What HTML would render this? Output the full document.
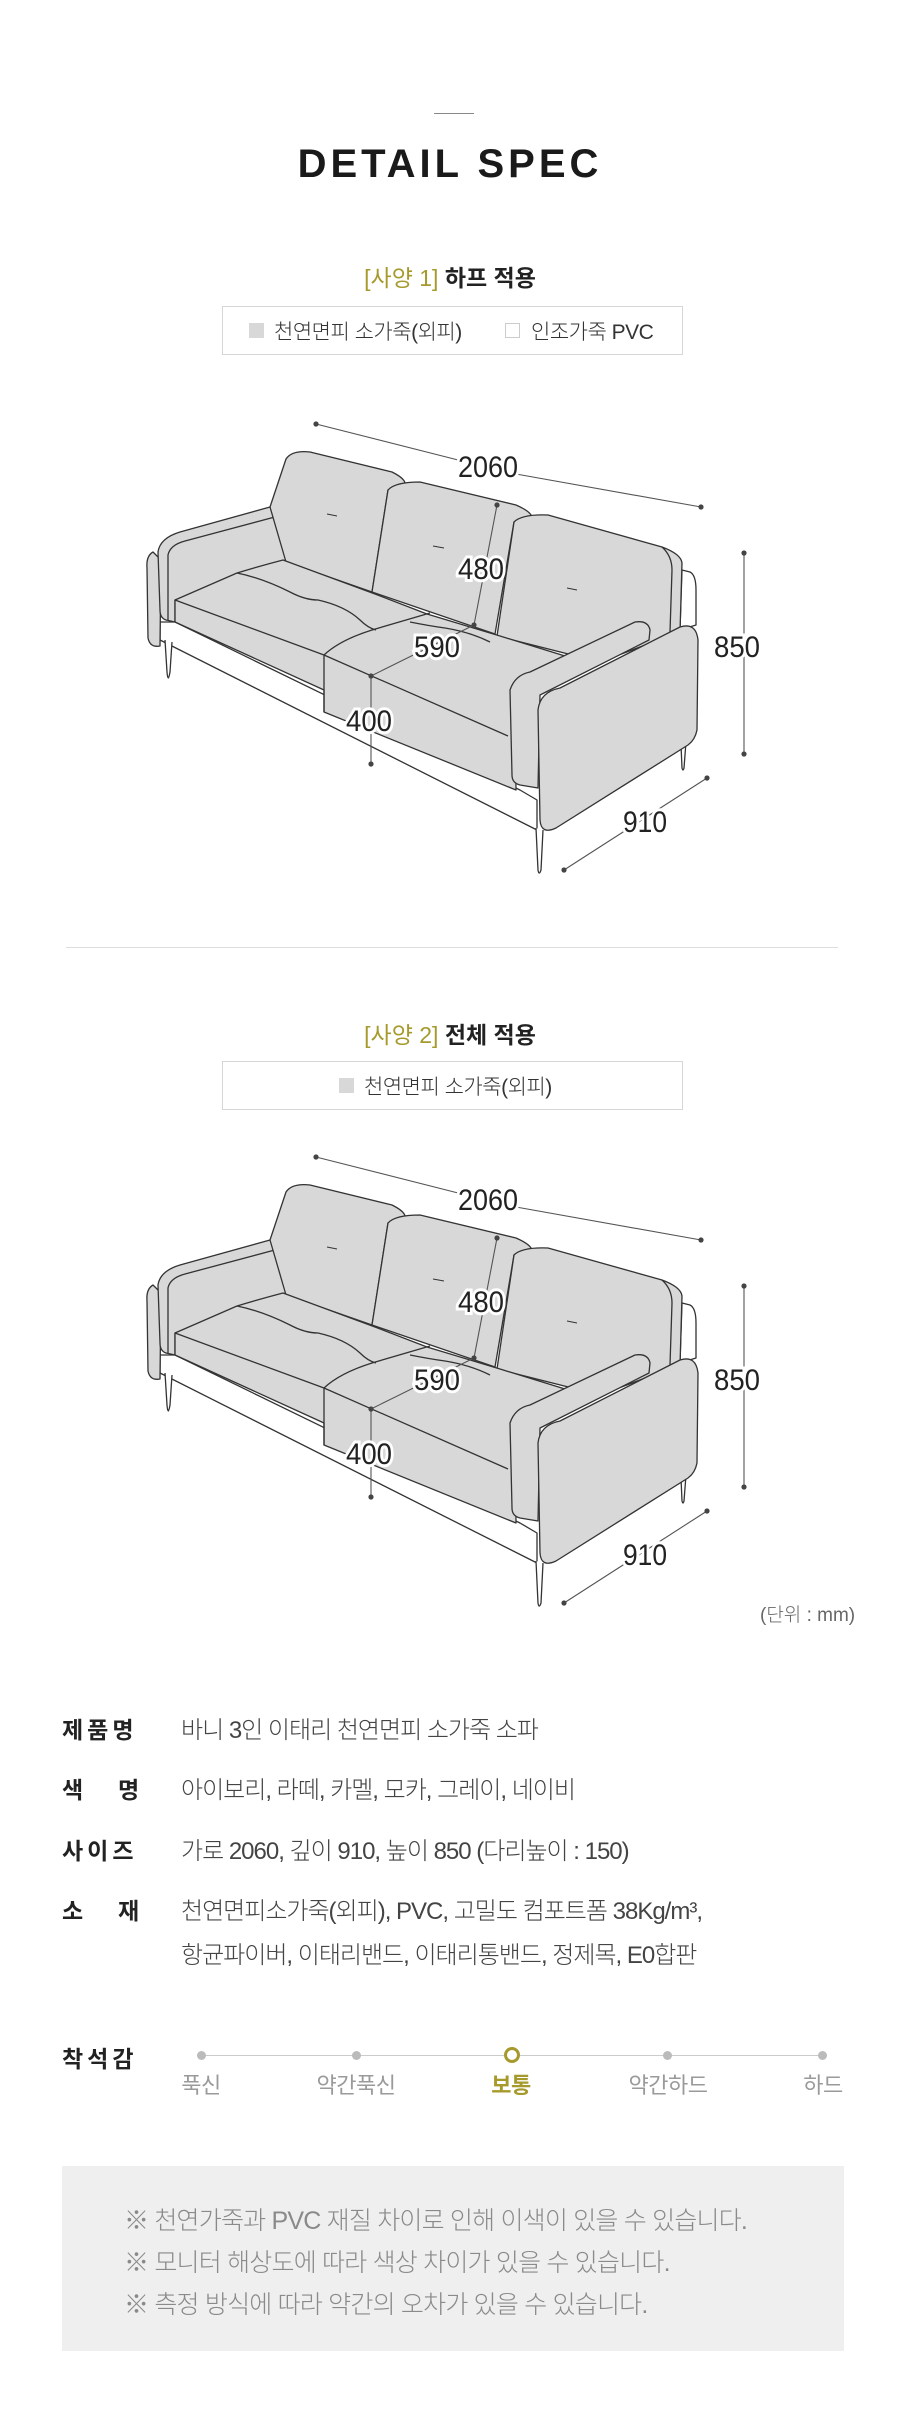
<!DOCTYPE html>
<html><head><meta charset="utf-8">
<style>
*{margin:0;padding:0;box-sizing:border-box}
body{width:900px;height:2425px;background:#fff;position:relative;font-family:"Liberation Sans","Noto Sans CJK KR",sans-serif;color:#222;overflow:hidden}
.a{position:absolute;white-space:nowrap}
.kr{font-family:"Liberation Sans","Noto Sans CJK KR",sans-serif}
.box{position:absolute;left:222px;width:461px;height:49px;border:1px solid #d6d6d6}
.sq{position:absolute;width:15px;height:15px}
.lbl{font-size:21px;color:#333;font-weight:300;letter-spacing:-0.5px}
.k{font-size:23px;font-weight:700;color:#222;letter-spacing:4px}
.v{font-size:24px;color:#444;font-weight:300;letter-spacing:-1px}
.sc{font-size:22px;color:#9a9a9a;transform:translateX(-50%);letter-spacing:-0.5px}
.note{font-size:25px;color:#8a8a8a;font-weight:300;letter-spacing:-0.8px}
svg text{font-family:"Liberation Sans","Noto Sans CJK KR",sans-serif;font-size:30px;fill:#222;stroke:#fff;stroke-width:6px;paint-order:stroke;text-anchor:middle}
</style></head><body>

<div class="a" style="left:434px;top:113px;width:40px;height:1px;background:#888"></div>
<div class="a" style="left:0;width:900px;top:142px;text-align:center;font-size:40px;font-weight:700;letter-spacing:4px;color:#1a1a1a">DETAIL SPEC</div>

<div class="a kr" style="left:0;width:900px;top:259px;text-align:center;font-size:23px;font-weight:700"><span style="color:#a69a2c;font-weight:400">[사양 1]</span> 하프 적용</div>
<div class="box" style="top:306px">
  <div class="sq" style="left:26px;top:16px;background:#d8d8d8"></div>
  <div class="a lbl" style="left:51px;top:9px">천연면피 소가죽(외피)</div>
  <div class="sq" style="left:282px;top:16px;border:1px solid #ccc"></div>
  <div class="a lbl" style="left:308px;top:9px">인조가죽 PVC</div>
</div>

<svg class="a" style="left:0;top:0" width="900" height="950" viewBox="0 0 900 950">
<defs>
<g id="sofa" stroke="#333" stroke-width="1.3" stroke-linejoin="round" fill="#d8d8d8">
  <path fill="#fff" d="M160,622 L175,622 L520,790 L537,800 L537,830 L160,640 Z"/>
  <path fill="#fff" d="M165,640 L167,672 Q168,684 170,672 L172,642"/>
  <path fill="#fff" d="M536,828 L538,870 Q539,876 541,870 L543,830"/>
  <path fill="#fff" d="M681,745 L682,768 Q683,772 684,768 L686,742"/>
  <path fill="#fff" d="M682,570 L690,572 Q696,575 696,590 L696,625 L680,630 Z"/>
  <path d="M153,552 Q146,556 147,568 L148,638 Q150,648 160,646 L161,560 Z"/>
  <path d="M158,552 Q160,538 180,532 L270,507 L286,514 L285,575 L175,600 L175,622 L166,620 Q160,618 160,610 Z"/>
  <path fill="none" d="M168,620 L168,555 Q170,545 185,541 L286,514"/>
  <path d="M270,507 L286,459 Q292,450 310,452 L392,472 Q404,478 405,483 L388,490 L372,592 L286,562 Z"/>
  <path d="M388,490 Q395,482 420,482 L516,505 Q532,512 532,518 L514,522 L495,634 L372,592 Z"/>
  <path d="M514,522 Q522,514 548,515 L662,547 Q681,554 682,563 L680,632 L600,662 L497,636 Z"/>
  <path fill="none" d="M662,547 Q672,556 672,570 L670,632"/>
  <path d="M175,600 L237,573 Q260,566 283,560 L375,594 L427,614 L500,636 L565,656 L545,668 L525,685 L515,700 L516,790 L324,712 L324,690 L175,622 Z"/>
  <path fill="none" d="M237,573 Q262,578 290,592 Q305,600 318,600 Q345,606 360,620 Q368,628 376,630 M324,655 Q340,640 372,630 L430,613 M175,600 L324,655 M324,655 L508,736 M324,655 L324,712 M410,622 Q430,626 445,628 Q470,632 490,642"/>
  <path d="M510,690 Q515,675 530,672 L635,622 Q648,620 650,630 L649,640 L540,695 L538,788 L520,785 Q512,783 512,775 Z"/>
  <path d="M538,710 Q540,692 560,688 L680,627 Q696,622 698,640 L697,730 Q695,740 688,745 L556,828 Q541,835 540,820 Z"/>
  <path fill="none" stroke-width="1" d="M327,514 L337,516 M433,546 L444,548 M567,588 L577,590"/>
</g>
<g id="dims" stroke="#555" stroke-width="1.1" fill="#444">
  <path fill="none" d="M316,424 L462,461 M516,474 L701,507 M497,505 L474,625 L371,676 L371,764 M744,553 L744,754 M707,778 L564,870"/>
  <circle cx="316" cy="424" r="2.6" stroke="none"/><circle cx="701" cy="507" r="2.6" stroke="none"/>
  <circle cx="497" cy="505" r="2.6" stroke="none"/><circle cx="474" cy="625" r="2.6" stroke="none"/>
  <circle cx="371" cy="676" r="2.6" stroke="none"/><circle cx="371" cy="764" r="2.6" stroke="none"/>
  <circle cx="744" cy="553" r="2.6" stroke="none"/><circle cx="744" cy="754" r="2.6" stroke="none"/>
  <circle cx="707" cy="778" r="2.6" stroke="none"/><circle cx="564" cy="870" r="2.6" stroke="none"/>
</g>
</defs>
<use href="#sofa"/><use href="#dims"/>
<text x="488" y="477" textLength="60" lengthAdjust="spacingAndGlyphs">2060</text>
<text x="481" y="579" textLength="46" lengthAdjust="spacingAndGlyphs">480</text>
<text x="437" y="657" textLength="46" lengthAdjust="spacingAndGlyphs">590</text>
<text x="369" y="731" textLength="46" lengthAdjust="spacingAndGlyphs">400</text>
<text x="737" y="657" textLength="46" lengthAdjust="spacingAndGlyphs">850</text>
<text x="645" y="832" textLength="44" lengthAdjust="spacingAndGlyphs">910</text>
</svg>

<div class="a" style="left:66px;top:947px;width:772px;height:1px;background:#ddd"></div>

<div class="a kr" style="left:0;width:900px;top:1016px;text-align:center;font-size:23px;font-weight:700"><span style="color:#a69a2c;font-weight:400">[사양 2]</span> 전체 적용</div>
<div class="box" style="top:1061px">
  <div class="sq" style="left:116px;top:16px;background:#d8d8d8"></div>
  <div class="a lbl" style="left:141px;top:9px">천연면피 소가죽(외피)</div>
</div>

<svg class="a" style="left:0;top:733px" width="900" height="950" viewBox="0 0 900 950">
<use href="#sofa"/><use href="#dims"/>
<text x="488" y="477" textLength="60" lengthAdjust="spacingAndGlyphs">2060</text>
<text x="481" y="579" textLength="46" lengthAdjust="spacingAndGlyphs">480</text>
<text x="437" y="657" textLength="46" lengthAdjust="spacingAndGlyphs">590</text>
<text x="369" y="731" textLength="46" lengthAdjust="spacingAndGlyphs">400</text>
<text x="737" y="657" textLength="46" lengthAdjust="spacingAndGlyphs">850</text>
<text x="645" y="832" textLength="44" lengthAdjust="spacingAndGlyphs">910</text>
</svg>

<div class="a kr" style="left:760px;top:1600px;font-size:19px;color:#666;font-weight:300">(단위 : mm)</div>

<div class="a kr k" style="left:62px;top:1711px">제품명</div>
<div class="a kr v" style="left:181px;top:1710px">바니 3인 이태리 천연면피 소가죽 소파</div>
<div class="a kr k" style="left:62px;top:1771px">색</div><div class="a kr k" style="left:118px;top:1771px">명</div>
<div class="a kr v" style="left:181px;top:1770px">아이보리, 라떼, 카멜, 모카, 그레이, 네이비</div>
<div class="a kr k" style="left:62px;top:1832px">사이즈</div>
<div class="a kr v" style="left:181px;top:1831px">가로 2060, 깊이 910, 높이 850 (다리높이 : 150)</div>
<div class="a kr k" style="left:62px;top:1892px">소</div><div class="a kr k" style="left:118px;top:1892px">재</div>
<div class="a kr v" style="left:181px;top:1891px">천연면피소가죽(외피), PVC, 고밀도 컴포트폼 38Kg/m³,</div>
<div class="a kr v" style="left:181px;top:1935px">항균파이버, 이태리밴드, 이태리통밴드, 정제목, E0합판</div>

<div class="a kr k" style="left:62px;top:2040px">착석감</div>
<div class="a" style="left:201px;top:2055px;width:622px;height:1px;background:#ccc"></div>
<div class="a" style="left:197px;top:2051px;width:9px;height:9px;border-radius:50%;background:#bbb"></div>
<div class="a" style="left:352px;top:2051px;width:9px;height:9px;border-radius:50%;background:#bbb"></div>
<div class="a" style="left:504px;top:2047px;width:16px;height:16px;border-radius:50%;border:3px solid #a69a2c;background:#fff"></div>
<div class="a" style="left:663px;top:2051px;width:9px;height:9px;border-radius:50%;background:#bbb"></div>
<div class="a" style="left:818px;top:2051px;width:9px;height:9px;border-radius:50%;background:#bbb"></div>
<div class="a kr sc" style="left:201px;top:2068px">푹신</div>
<div class="a kr sc" style="left:356px;top:2068px">약간푹신</div>
<div class="a kr sc" style="left:511px;top:2068px;color:#a69a2c;font-weight:700">보통</div>
<div class="a kr sc" style="left:668px;top:2068px">약간하드</div>
<div class="a kr sc" style="left:823px;top:2068px">하드</div>

<div class="a" style="left:62px;top:2166px;width:782px;height:185px;background:#efefef"></div>
<div class="a kr note" style="left:124px;top:2201px">※ 천연가죽과 PVC 재질 차이로 인해 이색이 있을 수 있습니다.</div>
<div class="a kr note" style="left:124px;top:2243px">※ 모니터 해상도에 따라 색상 차이가 있을 수 있습니다.</div>
<div class="a kr note" style="left:124px;top:2285px">※ 측정 방식에 따라 약간의 오차가 있을 수 있습니다.</div>
</body></html>
